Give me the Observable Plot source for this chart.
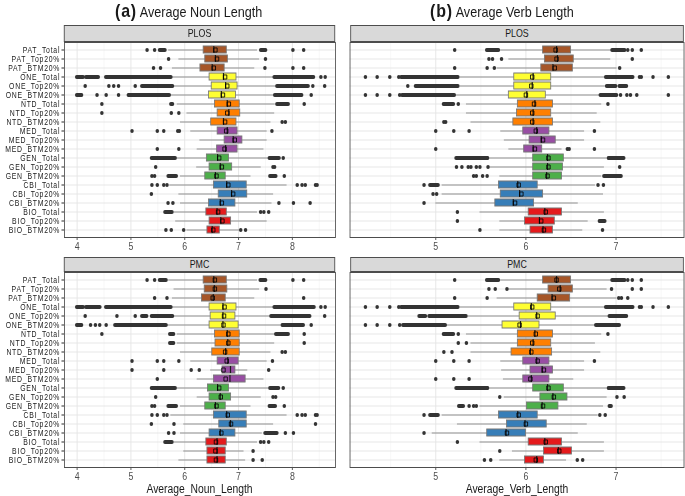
<!DOCTYPE html>
<html><head><meta charset="utf-8">
<script src="https://cdn.jsdelivr.net/npm/d3@7"></script>
<script src="https://cdn.jsdelivr.net/npm/@observablehq/plot@0.6"></script>
<style>
body{margin:0;background:#fff;overflow:hidden}
#wrap{position:relative;width:815.5px;height:496px;transform:scaleX(0.84);transform-origin:0 0;font-family:"Liberation Sans",Arial,sans-serif;color:#1a1a1a}
.abs{position:absolute;white-space:nowrap}
.strip{position:absolute;background:#d9d9d9;border:1px solid #4d4d4d;box-sizing:border-box;text-align:center;font-size:10.5px;color:#1a1a1a}
.plot{position:absolute}
.ylab text{letter-spacing:0.9px}
</style></head>
<body><div id="wrap"></div>
<script>
// ---------- categories ----------
const journals = ["PAT","ONE","NTD","MED","GEN","CBI","BIO"];
const journalColors = ["#A65628","#FFFF33","#FF7F00","#984EA3","#4DAF4A","#377EB8","#E41A1C"];
const groups = ["Total","Top20%","BTM20%"];
const rowLabels = journals.flatMap(j => groups.map(g => j + "_" + g));
const facets = ["PLOS","PMC"];

// ---------- tick labels ----------
const nounTicks = [4,5,6,7,8];
const nounMinor = [4.5,5.5,6.5,7.5,8.5];
const verbTicks = [5,6,7];
const verbMinor = [4.5,5.5,6.5,7.5];

// ---------- Average Noun Length, PLOS ----------
const nounPLOS_lo  = [5.70,5.89,5.77, 5.77,5.80,5.74, 5.86,6.04,5.92, 6.11,6.28,6.23, 5.86,6.22,5.92, 5.72,5.89,5.92, 5.80,5.83,6.04];
const nounPLOS_q1  = [6.35,6.38,6.29, 6.46,6.50,6.45, 6.56,6.61,6.49, 6.61,6.74,6.60, 6.41,6.46,6.38, 6.54,6.63,6.45, 6.40,6.46,6.42];
const nounPLOS_med = [6.54,6.57,6.51, 6.72,6.76,6.68, 6.79,6.82,6.72, 6.79,6.90,6.76, 6.61,6.66,6.57, 6.78,6.87,6.66, 6.60,6.67,6.51];
const nounPLOS_q3  = [6.78,6.80,6.74, 6.96,6.98,6.95, 7.02,7.03,6.96, 6.98,7.07,6.98, 6.82,6.88,6.76, 7.15,7.16,6.94, 6.78,6.86,6.65];
const nounPLOS_hi  = [7.35,7.39,7.30, 7.65,7.70,7.65, 7.68,7.67,7.60, 7.53,7.53,7.47, 7.56,7.42,7.23, 7.90,7.65,7.62, 7.35,7.53,7.02];
const nounPLOS_mean= [6.57,6.60,6.54, 6.75,6.79,6.71, 6.82,6.79,6.75, 6.77,6.93,6.74, 6.64,6.69,6.59, 6.81,6.90,6.69, 6.62,6.70,6.53];
const nounPLOS_out = [
  [5.30,5.44,8.01,8.21],[5.70,7.50],[5.42,5.55,7.49,8.01,8.21],
  [8.53,8.61],[4.15,4.59,4.68,4.77,5.08,8.38,8.60],[4.37,4.54,4.77,8.35],
  [4.46,8.22],[4.46,5.75,5.89],[7.81,7.87],
  [5.02,5.49,5.61,5.87,5.90,7.62],[],[5.49,5.89],
  [7.83],[5.46,7.64,7.67],[5.39,5.44,7.85],
  [5.39,5.49,5.61,5.67,8.09,8.18,8.24,8.43,8.46],[5.38],[5.69,5.78,7.75,8.02,8.33],
  [7.41,7.47,7.56],[],[5.65,5.75,5.98,7.04,7.13]
];
const nounPLOS_runs = [
  [[5.54,5.64],[7.42,7.51]],[],[],
  [[4.00,4.12],[4.17,4.40],[4.54,5.75],[7.67,8.40]],[[5.21,5.78],[7.72,8.30]],[[4.00,4.09],[4.96,5.72],[7.68,8.18]],
  [[5.75,5.78],[7.72,7.93]],[],[],
  [],[],[],
  [[5.39,5.83],[7.58,7.76]],[],[[5.70,5.85],[7.59,7.70]],
  [],[],[],
  [[5.64,5.77]],[],[]
];

// ---------- Average Noun Length, PMC ----------
const nounPMC_lo  = [5.70,5.80,5.77, 5.77,5.80,5.68, 5.86,5.86,5.92, 6.11,6.48,6.23, 5.86,6.23,5.92, 5.74,5.98,5.92, 5.80,5.98,5.89];
const nounPMC_q1  = [6.35,6.37,6.32, 6.46,6.48,6.46, 6.56,6.57,6.51, 6.61,6.70,6.54, 6.43,6.46,6.38, 6.54,6.64,6.46, 6.40,6.42,6.42];
const nounPMC_med = [6.54,6.55,6.53, 6.71,6.71,6.71, 6.79,6.80,6.76, 6.80,6.85,6.84, 6.61,6.66,6.57, 6.78,6.85,6.66, 6.60,6.60,6.60];
const nounPMC_q3  = [6.78,6.79,6.76, 6.96,6.94,7.00, 7.02,7.02,7.02, 7.00,6.94,7.13, 6.82,6.86,6.76, 7.15,7.15,6.94, 6.78,6.76,6.76];
const nounPMC_hi  = [7.35,7.39,7.30, 7.65,7.59,7.79, 7.68,7.67,7.60, 7.53,7.17,7.47, 7.56,7.42,7.23, 7.90,7.65,7.44, 7.35,7.10,7.13];
const nounPMC_mean= [6.56,6.56,6.52, 6.74,6.73,6.72, 6.81,6.81,6.75, 6.78,6.72,6.76, 6.64,6.67,6.59, 6.80,6.86,6.68, 6.58,6.57,6.58];
const nounPMC_out = [
  [5.30,5.44,8.01,8.21],[7.51],[5.44,5.67,8.21],
  [8.53,8.61],[4.15,4.74,5.08,8.60],[4.25,4.34,4.42,4.54,8.35],
  [4.46,8.22],[8.22],[7.81,7.87],
  [5.02,5.49,5.61,5.89,7.63],[5.02,5.61,6.12,6.27,7.56],[5.49],
  [7.83],[5.46,7.64,7.69],[5.39,5.44,7.85],
  [5.39,5.49,5.61,5.67,8.09,8.18,8.24,8.43,8.46],[5.38,5.80,8.43],[5.70,5.80,7.87,8.02],
  [7.41,7.47,7.56],[7.27],[7.27,7.44]
];
const nounPMC_runs = [
  [[5.54,5.66],[7.41,7.51]],[],[],
  [[4.00,4.12],[4.17,4.43],[4.54,5.75],[7.67,8.41]],[[5.21,5.30],[5.39,5.78],[7.61,8.33]],[[4.00,4.09],[4.71,5.66],[7.82,8.21]],
  [[5.73,5.80],[7.70,7.93]],[[5.73,5.80]],[],
  [],[],[],
  [[5.39,5.83],[7.59,7.75]],[],[[5.70,5.85],[7.58,7.69]],
  [],[],[[7.50,7.72]],
  [[5.64,5.77]],[],[]
];

// ---------- Average Verb Length, PLOS ----------
const verbPLOS_lo  = [5.72,5.81,5.68, 5.27,5.27,5.23, 5.34,5.34,5.39, 5.72,5.76,5.81, 5.60,5.60,5.71, 5.07,5.07,5.00, 5.49,5.71,5.71];
const verbPLOS_q1  = [6.19,6.21,6.17, 5.87,5.87,5.81, 5.91,5.90,5.86, 5.97,6.04,5.98, 6.08,6.08,6.08, 5.70,5.72,5.66, 6.03,5.99,6.05];
const verbPLOS_med = [6.34,6.35,6.30, 6.08,6.07,6.01, 6.10,6.08,6.08, 6.12,6.17,6.08, 6.24,6.24,6.23, 5.91,5.93,5.86, 6.21,6.15,6.19];
const verbPLOS_q3  = [6.50,6.53,6.52, 6.28,6.28,6.22, 6.30,6.28,6.30, 6.26,6.33,6.18, 6.42,6.41,6.40, 6.13,6.19,6.09, 6.40,6.32,6.30];
const verbPLOS_hi  = [6.95,6.94,7.01, 6.88,6.88,6.82, 6.84,6.79,6.83, 6.65,6.65,6.40, 6.90,6.87,6.84, 6.77,6.86,6.58, 6.87,6.69,6.63];
const verbPLOS_mean= [6.33,6.34,6.32, 6.07,6.06,6.00, 6.09,6.07,6.07, 6.11,6.19,6.10, 6.25,6.25,6.24, 5.92,5.95,5.88, 6.22,6.17,6.20];
const verbPLOS_out = [
  [5.21,7.13,7.18,7.28],[5.59,5.63,5.73,7.18],[5.21,5.57,5.65,7.04],
  [4.22,4.35,4.49,4.59,7.26,7.28,7.41,7.58],[4.69],[4.22,4.35,4.49,4.60,7.05,7.12,7.16,7.23,7.58],
  [5.25,6.91],[],[5.09,5.11],
  [5.00,5.20,5.37,6.76],[],[5.00,6.46,6.48,6.76],
  [],[5.23,5.29,5.36,5.39,5.45,5.49,5.58,7.04],[5.42,5.45,5.52,5.57],
  [4.87,6.80,6.86],[4.97,5.01],[4.87],
  [5.24],[5.24],[5.49,6.85]
];
const verbPLOS_runs = [
  [[5.57,5.70],[6.96,7.10]],[],[],
  [[4.62,5.25],[6.89,7.19]],[[4.78,5.25],[6.90,7.00],[7.04,7.12]],[[4.63,5.21],[6.83,7.01]],
  [[5.09,5.20]],[],[],
  [],[],[],
  [[5.23,5.58],[6.92,7.09]],[],[[6.87,7.06]],
  [[4.94,5.03]],[],[],
  [],[[6.82,6.88]],[]
];

// ---------- Average Verb Length, PMC ----------
const verbPMC_lo  = [5.72,5.81,5.68, 5.27,5.36,5.12, 5.34,5.39,5.39, 5.72,5.73,5.75, 5.60,5.76,5.49, 5.07,5.24,4.96, 5.49,5.85,5.71];
const verbPMC_q1  = [6.19,6.25,6.13, 5.87,5.93,5.74, 5.91,5.91,5.84, 5.97,6.05,5.97, 6.08,6.16,6.01, 5.70,5.79,5.57, 6.03,6.20,5.99];
const verbPMC_med = [6.34,6.38,6.29, 6.06,6.12,5.94, 6.10,6.08,6.05, 6.12,6.18,6.06, 6.24,6.30,6.18, 5.91,5.99,5.78, 6.21,6.36,6.12];
const verbPMC_q3  = [6.50,6.52,6.49, 6.28,6.33,6.15, 6.30,6.28,6.29, 6.26,6.30,6.26, 6.42,6.46,6.36, 6.13,6.23,6.00, 6.40,6.51,6.20];
const verbPMC_hi  = [6.95,6.90,7.01, 6.88,6.92,6.77, 6.84,6.77,6.83, 6.65,6.65,6.53, 6.90,6.90,6.86, 6.80,6.68,6.58, 6.87,6.87,6.45];
const verbPMC_mean= [6.34,6.37,6.31, 6.07,6.13,5.93, 6.11,6.07,6.06, 6.13,6.20,6.05, 6.25,6.31,6.19, 5.92,6.00,5.79, 6.22,6.37,6.11];
const verbPMC_out = [
  [5.21,7.13,7.18,7.28],[5.59,5.66,5.79,6.95,7.18,7.28],[5.21,5.57,7.03,7.06,7.13],
  [4.22,4.35,4.49,4.59,7.26,7.28,7.41,7.58],[],[4.22,4.35,4.49,4.60],
  [5.25,6.91],[5.25,5.34],[5.09,5.18],
  [5.00,5.20,5.37,6.76],[],[5.00,5.20,5.37],
  [],[5.71,7.01,7.09],[5.37,5.42,5.45],
  [4.87,6.82,6.88],[],[4.87],
  [5.24],[5.71],[5.54,5.61,6.57,6.63]
];
const verbPMC_runs = [
  [[5.57,5.70],[6.96,7.10]],[],[],
  [[4.62,5.25],[6.89,7.19]],[[4.82,4.89],[4.93,5.34],[6.93,7.12]],[[4.64,5.11],[6.78,7.04]],
  [[5.09,5.20]],[],[],
  [],[],[],
  [[5.23,5.58],[6.92,7.09]],[],[[5.26,5.31],[6.93,6.95]],
  [[4.94,5.03]],[],[],
  [],[],[]
];

// ---------- layout (final px, wrapper is scaled horizontally) ----------
const S = 0.84;
const u = px => px / S;
const wrap = document.getElementById("wrap");

function el(cls, style, html) {
  const d = document.createElement("div");
  d.className = cls;
  Object.assign(d.style, style);
  d.innerHTML = html;
  wrap.appendChild(d);
  return d;
}

function makePanel(c) {
  const boxes = rowLabels.map((r, i) => ({
    row: r, journal: r.split("_")[0],
    lo: c.lo[i], q1: c.q1[i], med: c.med[i], q3: c.q3[i], hi: c.hi[i], mean: c.mean[i]
  }));
  const outPts = c.out.flatMap((a, i) => a.map(v => ({row: rowLabels[i], v})));
  const outRuns = c.runs.flatMap((a, i) => a.map(([a1, a2]) => ({row: rowLabels[i], a1, a2})));
  return Plot.plot({
    width: c.width, height: c.height,
    marginLeft: c.mL, marginRight: c.mR, marginTop: c.mT, marginBottom: c.mB,
    style: {fontFamily: '"Liberation Sans", Arial, sans-serif', fontSize: "10.3px", color: "#1a1a1a", background: "transparent", overflow: "visible"},
    x: {domain: c.domain, axis: null},
    y: {type: "band", domain: rowLabels, paddingInner: 0.24, paddingOuter: 0.22, axis: null},
    color: {domain: journals, range: journalColors},
    marks: [
      Plot.ruleX(c.minor, {stroke: "#f0f0f0", strokeWidth: 0.6}),
      Plot.ruleX(c.major, {stroke: "#e5e5e5", strokeWidth: 1}),
      Plot.ruleY(rowLabels, {y: d => d, stroke: "#e5e5e5", strokeWidth: 1}),
      Plot.ruleY(boxes, {y: "row", x1: "lo", x2: "hi", stroke: "#8a8a8a", strokeWidth: 1}),
      Plot.ruleY(outRuns, {y: "row", x1: "a1", x2: "a2", stroke: "#333", strokeWidth: 4.2, strokeLinecap: "round"}),
      Plot.dot(outPts, {y: "row", x: "v", r: 2.1, fill: "#333"}),
      Plot.barX(boxes, {y: "row", x1: "q1", x2: "q3", fill: "journal", stroke: "#777", strokeWidth: 1}),
      Plot.tickX(boxes, {y: "row", x: "med", stroke: "#1a1a1a", strokeWidth: 1.4}),
      Plot.dot(boxes, {y: "row", x: "mean", symbol: "square", r: 2.3, stroke: "#000", strokeWidth: 0.9, fill: "none"}),
      Plot.frame({stroke: "#4d4d4d", strokeWidth: 1}),
      Plot.axisX(c.major, {tickSize: 3, tickPadding: 2, label: null, color: "#4d4d4d", fontSize: 10.5}),
      c.showY ? Plot.axisY({tickSize: 3, tickPadding: 2, label: null, color: "#1a1a1a", fontSize: 8.2, className: "ylab"}) : null
    ]
  });
}

const cols = [
  {key: "noun", title: "Average Noun Length", tag: "(a)", axisTitle: "Average_Noun_Length",
   domain: [3.764, 8.80], major: nounTicks, minor: nounMinor, showY: true,
   svgLeft: 0, svgWidth: u(336), mL: u(64), mR: u(336) - u(335),
   stripLeft: u(64), stripWidth: u(335) - u(64), titleLeft: u(115), center: u(199.5),
   data: {PLOS: [nounPLOS_lo, nounPLOS_q1, nounPLOS_med, nounPLOS_q3, nounPLOS_hi, nounPLOS_mean, nounPLOS_out, nounPLOS_runs],
          PMC:  [nounPMC_lo, nounPMC_q1, nounPMC_med, nounPMC_q3, nounPMC_hi, nounPMC_mean, nounPMC_out, nounPMC_runs]}},
  {key: "verb", title: "Average Verb Length", tag: "(b)", axisTitle: "Average_Verb_Length",
   domain: [4.049, 7.754], major: verbTicks, minor: verbMinor, showY: false,
   svgLeft: u(349), svgWidth: u(685) - u(349), mL: u(350) - u(349), mR: u(685) - u(684),
   stripLeft: u(350), stripWidth: u(684) - u(350), titleLeft: u(430), center: u(517),
   data: {PLOS: [verbPLOS_lo, verbPLOS_q1, verbPLOS_med, verbPLOS_q3, verbPLOS_hi, verbPLOS_mean, verbPLOS_out, verbPLOS_runs],
          PMC:  [verbPMC_lo, verbPMC_q1, verbPMC_med, verbPMC_q3, verbPMC_hi, verbPMC_mean, verbPMC_out, verbPMC_runs]}}
];

const rowsLayout = [
  {facet: "PLOS", stripTop: 25, panelTop: 41.7, mB: 22},
  {facet: "PMC", stripTop: 256.5, panelTop: 271.7, mB: 16}
];
const panelH = 195;

for (const col of cols) {
  el("abs", {left: col.titleLeft + "px", top: "0px", lineHeight: "21.3px"},
     `<span style="font-weight:bold;font-size:19px;letter-spacing:1px">${col.tag}</span><span style="font-size:15px"> ${col.title}</span>`);
  for (const r of rowsLayout) {
    const sh = r.panelTop - r.stripTop + 0.5;
    el("strip", {left: col.stripLeft + "px", top: r.stripTop + "px", width: col.stripWidth + "px", height: sh + "px", lineHeight: (sh - 2) + "px"}, r.facet);
    const [lo, q1, med, q3, hi, mean, out, runs] = col.data[r.facet];
    const svg = makePanel({
      lo, q1, med, q3, hi, mean, out, runs,
      domain: col.domain, major: col.major, minor: col.minor, showY: col.showY,
      width: col.svgWidth, height: 1 + panelH + r.mB,
      mL: col.mL, mR: col.mR, mT: 1, mB: r.mB
    });
    const holder = el("plot", {left: col.svgLeft + "px", top: (r.panelTop - 1) + "px"}, "");
    holder.appendChild(svg);
  }
  el("abs", {left: (col.center - 150) + "px", width: "300px", textAlign: "center", top: "481.5px", fontSize: "12.3px", color: "#1a1a1a"}, col.axisTitle);
}
</script></body></html>
